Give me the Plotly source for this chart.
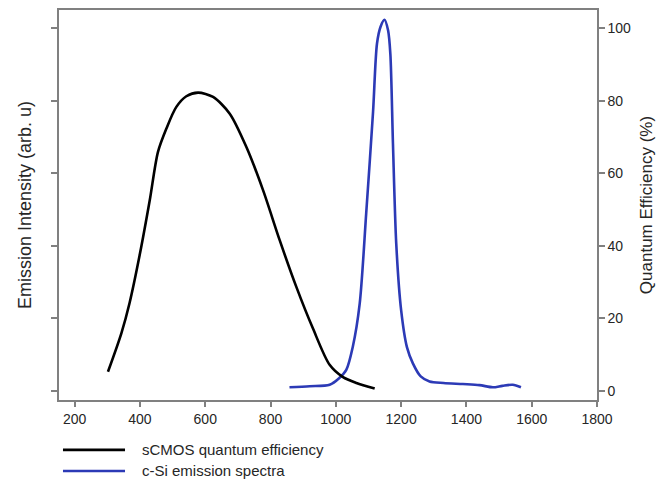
import plotly.graph_objects as go

# --- data ---
series_names = ["sCMOS quantum efficiency", "c-Si emission spectra"]

qe_wavelength = [302, 343, 368, 400, 430, 455, 481, 511, 542, 578, 624, 675,
                 726, 777, 828, 879, 930, 981, 1022, 1063, 1119]
qe_percent = [5.3, 15.9, 24.2, 37.9, 52.6, 65.9, 72.4, 78.3, 81.3, 82.3, 81.1, 76.5,
              67.3, 55.4, 41.6, 28.7, 17.2, 7.2, 3.8, 2.2, 0.7]

em_wavelength = [858, 920, 981, 1010, 1032, 1052, 1073, 1093, 1114, 1126, 1137, 1149,
                 1160, 1167, 1175, 1185, 1200, 1218, 1236, 1260, 1287, 1330, 1389,
                 1440, 1481, 1510, 1542, 1567]
em_intensity = [1.0, 1.3, 1.7, 3.5, 5.8, 12.2, 24.0, 49.0, 77.0, 95.8, 100.5, 102.4,
                99.5, 93.0, 68.2, 40.7, 22.3, 12.0, 7.6, 4.0, 2.6, 2.2, 1.9,
                1.6, 1.0, 1.4, 1.7, 1.0]

x_ticks = [200, 400, 600, 800, 1000, 1200, 1400, 1600, 1800]
y_ticks = [0, 20, 40, 60, 80, 100]

BLUE = "#2C3AB6"
BLACK = "#000000"
AXIS = "#808080"
TEXT = "#262626"
FONT = "Liberation Sans, Arial, sans-serif"

fig = go.Figure()
fig.add_trace(go.Scatter(x=qe_wavelength, y=qe_percent, mode="lines", name=series_names[0],
                         line=dict(color=BLACK, width=2.6, shape="spline", smoothing=0.8),
                         yaxis="y2", showlegend=False))
fig.add_trace(go.Scatter(x=em_wavelength, y=em_intensity, mode="lines", name=series_names[1],
                         line=dict(color=BLUE, width=2.6, shape="spline", smoothing=0.8),
                         yaxis="y", showlegend=False))

axis_common = dict(showline=True, linecolor=AXIS, linewidth=1.5, ticks="outside",
                   tickcolor=AXIS, tickwidth=1.5, showgrid=False, zeroline=False,
                   automargin=False)

# page body has an 8px margin, so the figure is sized/offset to compensate
fig.update_layout(
    width=656, height=477,
    margin=dict(l=51, r=67, t=2, b=85),
    paper_bgcolor="white", plot_bgcolor="white",
    font=dict(family=FONT, size=14, color=TEXT),
    xaxis=dict(range=[152, 1800], tickvals=x_ticks, ticklen=5, mirror=True,
               tickfont=dict(size=14, color=TEXT), **axis_common),
    yaxis=dict(range=[-2.5, 105.1], tickvals=y_ticks, ticklen=6, showticklabels=False,
               title=dict(text="Emission Intensity (arb. u)", font=dict(size=18, color=TEXT),
                          standoff=15),
               **axis_common),
    yaxis2=dict(range=[-2.5, 105.1], tickvals=y_ticks, ticklen=6, overlaying="y", side="right",
                tickfont=dict(size=14, color=TEXT),
                title=dict(text="Quantum Efficiency (%)", font=dict(size=17, color=TEXT),
                           standoff=10),
                **axis_common),
)

# legend drawn below the plot (paper coordinates)
legend_rows = [(series_names[0], BLACK, -0.128), (series_names[1], BLUE, -0.182)]
for name, color, yp in legend_rows:
    fig.add_shape(type="line", xref="paper", yref="paper", x0=0.0074, x1=0.1227,
                  y0=yp, y1=yp, line=dict(color=color, width=2.6))
    fig.add_annotation(xref="paper", yref="paper", x=0.1506, y=yp, text=name,
                       showarrow=False, xanchor="left", yanchor="middle",
                       font=dict(size=15, color=TEXT, family=FONT))

fig.write_html("out.html")
